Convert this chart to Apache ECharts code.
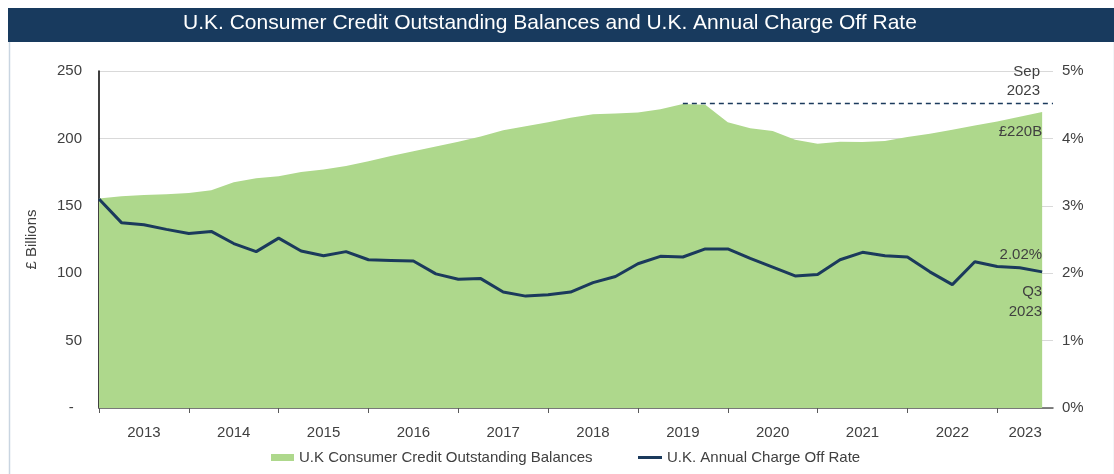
<!DOCTYPE html>
<html><head><meta charset="utf-8">
<script src="https://cdn.jsdelivr.net/npm/echarts@6/dist/echarts.min.js"></script>
<style>html,body{margin:0;padding:0;background:#fff}#c{width:1114px;height:474px}</style>
</head><body><div id="c"></div>
<script>
// Quarterly periods (Q1 2013 .. Q3 2023)
const quarters = ['2013Q1','2013Q2','2013Q3','2013Q4','2014Q1','2014Q2','2014Q3','2014Q4',
  '2015Q1','2015Q2','2015Q3','2015Q4','2016Q1','2016Q2','2016Q3','2016Q4',
  '2017Q1','2017Q2','2017Q3','2017Q4','2018Q1','2018Q2','2018Q3','2018Q4',
  '2019Q1','2019Q2','2019Q3','2019Q4','2020Q1','2020Q2','2020Q3','2020Q4',
  '2021Q1','2021Q2','2021Q3','2021Q4','2022Q1','2022Q2','2022Q3','2022Q4',
  '2023Q1','2023Q2','2023Q3'];
// U.K consumer credit outstanding balances, £ billions
const balances = [155.5,157,158,158.5,159.5,161.5,167.5,170.5,
  172,175,177,179.5,183,187,190.5,194,
  197.5,201.5,206,209,212,215.3,217.9,218.5,
  219.3,221.6,225.5,225,212,207.5,205.5,199,
  196,197.5,197.3,198,201,203.5,206.5,209.5,
  212.5,216,219.5];
// U.K. annual charge off rate, %
const chargeOffRate = [3.10,2.75,2.72,2.65,2.59,2.62,2.44,2.32,
  2.52,2.33,2.26,2.32,2.20,2.19,2.18,1.99,
  1.91,1.92,1.72,1.66,1.68,1.72,1.86,1.95,
  2.14,2.25,2.24,2.36,2.36,2.22,2.09,1.96,
  1.98,2.20,2.31,2.26,2.24,2.02,1.83,2.17,
  2.10,2.08,2.02];
const yearLabels = ['2013','2014','2015','2016','2017','2018','2019','2020','2021','2022','2023'];
const leftTicks = [0,50,100,150,200,250];
const rightTicks = [0,1,2,3,4,5];
const seriesNames = ['U.K Consumer Credit Outstanding Balances','U.K. Annual Charge Off Rate'];
const annotations = {balance:'£220B', balanceDate:'Sep\n2023', rate:'2.02%', rateDate:'Q3\n2023'};

// x in months since Jan 2013
const monthsPerQuarter = 3;
const xMax = 127.45;
const xOf = i => i * monthsPerQuarter;
const yearTicks = yearLabels.map((y, i) => i * 12);
const yearLabelPos = yearLabels.map((y, i) => (i * 12 + Math.min(i * 12 + 12, xMax)) / 2);
const areaData = balances.map((v, i) => [xOf(i), v]);
const lineData = chargeOffRate.map((v, i) => [xOf(i), v]);
const last = balances.length - 1;
const peakVal = Math.max(...balances);
const peakIdx = balances.indexOf(peakVal);

const FONT = 'Liberation Sans, Arial, sans-serif';
const TXT = '#404040';
const NAVY = '#1B3A5C';
const GREEN = '#AED88C';

const chart = echarts.init(document.getElementById('c'), null, {renderer: 'canvas'});
chart.setOption({
  animation: false,
  backgroundColor: '#fff',
  textStyle: {fontFamily: FONT},
  graphic: [
    {type: 'rect', left: 7, top: 7, z: 0, shape: {width: 1105, height: 480},
      style: {fill: 'none', stroke: '#C9D5E1', lineWidth: 1.5}},
    {type: 'rect', left: 8, top: 8, z: 1, shape: {width: 1106, height: 34},
      style: {fill: '#183A5E'}}
  ],
  title: {text: 'U.K. Consumer Credit Outstanding Balances and U.K. Annual Charge Off Rate',
    left: 183, top: 13, z: 10, padding: 0,
    textStyle: {color: '#fff', fontSize: 21, fontWeight: 'normal', fontFamily: FONT}},
  legend: [
    {top: 445, left: 266, itemWidth: 23, itemHeight: 7, itemGap: 5,
      textStyle: {color: TXT, fontSize: 15, fontFamily: FONT},
      data: [{name: seriesNames[0], icon: 'rect'}]},
    {top: 445, left: 633, itemWidth: 24, itemHeight: 3, itemGap: 5,
      textStyle: {color: TXT, fontSize: 15, fontFamily: FONT},
      data: [{name: seriesNames[1], icon: 'rect', itemStyle: {color: NAVY}}]}
  ],
  grid: {left: 99, top: 71, right: 61, bottom: 66},
  xAxis: {type: 'value', min: 0, max: xMax,
    axisLine: {show: true, lineStyle: {color: '#595959', width: 1.5}},
    axisTick: {show: true, customValues: yearTicks, length: 5, lineStyle: {color: '#595959'}},
    axisLabel: {customValues: yearLabelPos, color: TXT, fontSize: 15, margin: 17,
      formatter: v => yearLabels[Math.floor(v / 12)]},
    splitLine: {show: false}},
  yAxis: [
    {type: 'value', min: 0, max: 250, interval: 50, name: '£ Billions', nameLocation: 'middle',
      nameGap: 60, nameRotate: 90, nameTextStyle: {color: TXT, fontSize: 15},
      axisLine: {show: true, lineStyle: {color: '#000', width: 1.5}},
      axisTick: {show: false},
      axisLabel: {color: TXT, fontSize: 15, margin: 17, formatter: v => v === 0 ? '-  ' : String(v)},
      splitLine: {show: true, lineStyle: {color: '#D9D9D9', width: 1}}},
    {type: 'value', min: 0, max: 5, interval: 1, position: 'right',
      axisLine: {show: false}, axisTick: {show: false},
      axisLabel: {color: TXT, fontSize: 15, margin: 9, formatter: v => v + '%'},
      splitLine: {show: false}}
  ],
  series: [
    {name: seriesNames[0], type: 'line', yAxisIndex: 0, data: areaData, symbol: 'none',
      color: GREEN, lineStyle: {width: 0}, areaStyle: {color: GREEN, opacity: 1},
      markPoint: {symbol: 'circle', symbolSize: 0, silent: true,
        data: [{coord: areaData[last], label: {show: true, formatter: annotations.balance,
          position: 'bottom', align: 'right', distance: 12, color: TXT, fontSize: 15}}]},
      markLine: {symbol: 'none', silent: true,
        lineStyle: {color: NAVY, type: [5, 4], width: 1.3},
        label: {show: true, position: 'insideEndTop', formatter: annotations.balanceDate,
          color: TXT, fontSize: 15, lineHeight: 19, align: 'right', distance: [13, 3]},
        data: [[{coord: [xOf(peakIdx), peakVal + 0.8]}, {coord: [xMax, peakVal + 0.8]}]]}},
    {name: seriesNames[1], type: 'line', yAxisIndex: 1, data: lineData, symbol: 'none',
      color: NAVY, lineStyle: {width: 3, color: NAVY}, z: 5,
      markPoint: {symbol: 'circle', symbolSize: 0, silent: true,
        data: [
          {coord: lineData[last], label: {show: true, formatter: annotations.rate, position: 'top',
            align: 'right', distance: 9, color: TXT, fontSize: 15}},
          {coord: lineData[last], label: {show: true, formatter: annotations.rateDate, position: 'bottom',
            align: 'right', distance: 10, lineHeight: 20, color: TXT, fontSize: 15}}
        ]}}
  ]
});
</script>
</body></html>
